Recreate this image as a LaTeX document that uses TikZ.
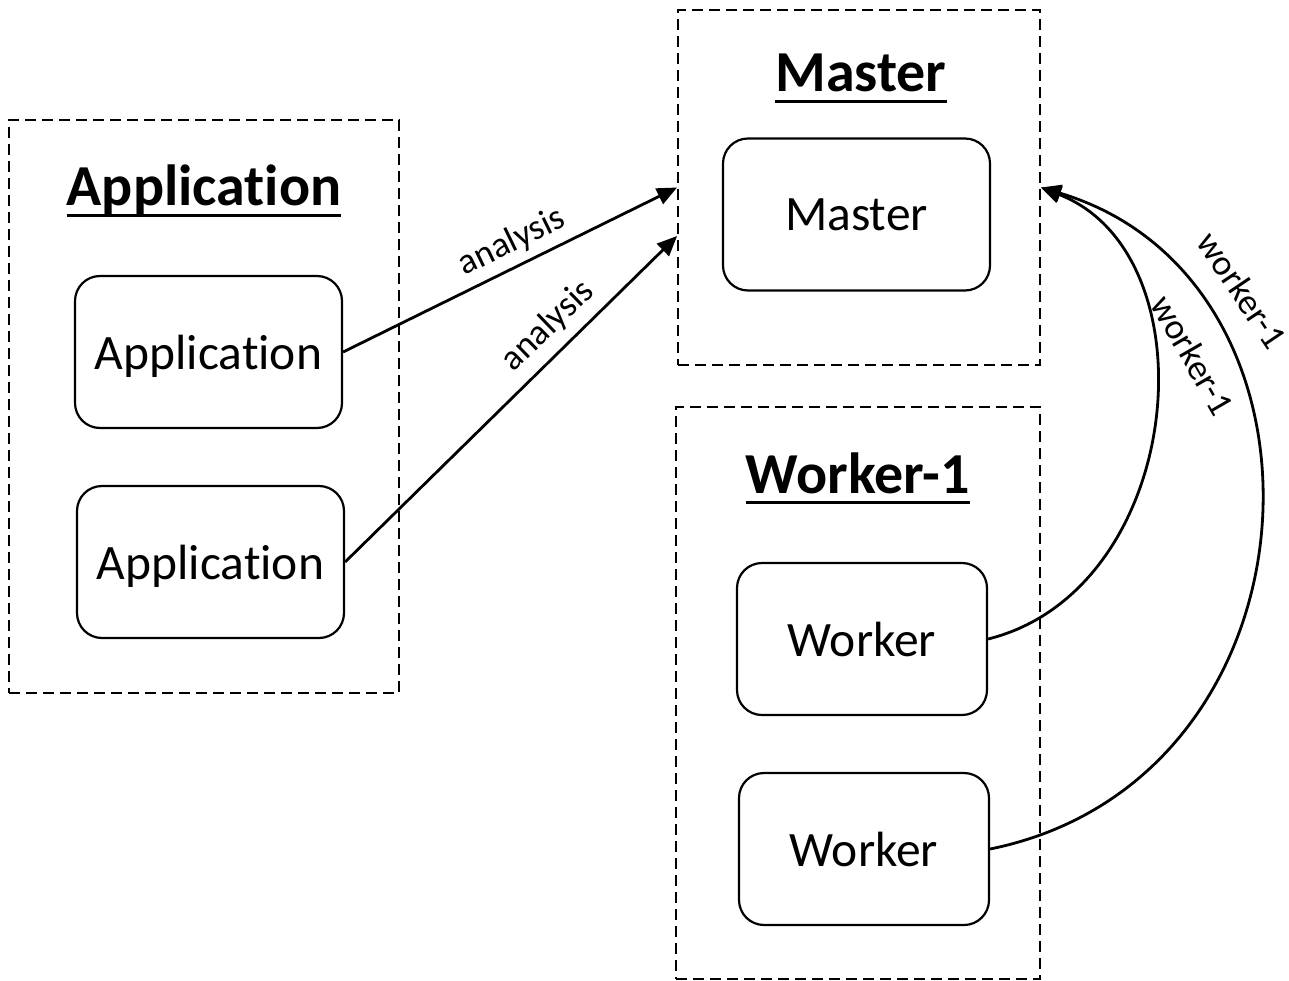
\documentclass[tikz,border=0pt]{standalone}
\usepackage{fontspec}
\setmainfont{Carlito}[Ligatures={NoCommon}]
\usetikzlibrary{arrows.meta}
% underlined heading: rule at a fixed depth below the baseline
\newcommand\titleline[1]{\setbox0\hbox{#1}\rlap{\rule[-0.19em]{\wd0}{0.06em}}\box0}

\begin{document}
\begin{tikzpicture}[x=1pt,y=-1pt,
  group/.style={draw, dash pattern=on 11pt off 6pt, line width=1.8pt, inner sep=0pt},
  unit/.style={draw, rounded corners=25pt, line width=2.2pt, minimum height=152pt,
    inner sep=0pt, text depth=0pt, font=\fontsize{49.5}{58}\selectfont},
  title/.style={anchor=base, inner sep=0pt, font=\fontsize{58}{70}\selectfont\bfseries},
  link/.style={line width=2.8pt, -{Triangle[length=20pt,width=17pt]}},
  tag/.style={font=\fontsize{36}{42}\selectfont, inner sep=1pt}]
\useasboundingbox (0,0) rectangle (1289,981);

% groups
\node[group, minimum width=390pt, minimum height=573pt] (agrp) at (204,406.5) {};
\node[group, minimum width=362pt, minimum height=355pt] (mgrp) at (859,187.5) {};
\node[group, minimum width=364pt, minimum height=572pt] (wgrp) at (858,693) {};

% headings
\node[title] (atitle) at (204,206) {\titleline{Application}};
\node[title] (mtitle) at (861,92) {\titleline{Master}};
\node[title] (wtitle) at (858,493) {\titleline{Worker-1}};

% components
\node[unit, minimum width=267pt] (app1) at (208.5,352) {Application};
\node[unit, minimum width=267pt] (app2) at (210.5,562) {Application};
\node[unit, minimum width=267pt] (mst) at (856.5,214.5) {Master};
\node[unit, minimum width=250pt] (w1) at (862,639) {Worker};
\node[unit, minimum width=250pt] (w2) at (864,849) {Worker};

% requests to the master
\draw[link] (app1.east) -- (mgrp.west);
\draw[link] (app2.east) -- ([yshift=-48.5pt]mgrp.west);
\node[tag, rotate=26] (an1) at (512,242) {analysis};
\node[tag, rotate=44] (an2) at (548,326) {analysis};

% worker registrations
\draw[link] (w1.east) .. controls (1185,590) and (1215,255) .. (mgrp.east);
\draw[link] (w2.east) .. controls (1330,780) and (1352,280) .. (mgrp.east);
\node[tag, rotate=-60] (wk1) at (1193,355) {worker-1};
\node[tag, rotate=-56] (wk2) at (1242,290) {worker-1};
\end{tikzpicture}
\end{document}
